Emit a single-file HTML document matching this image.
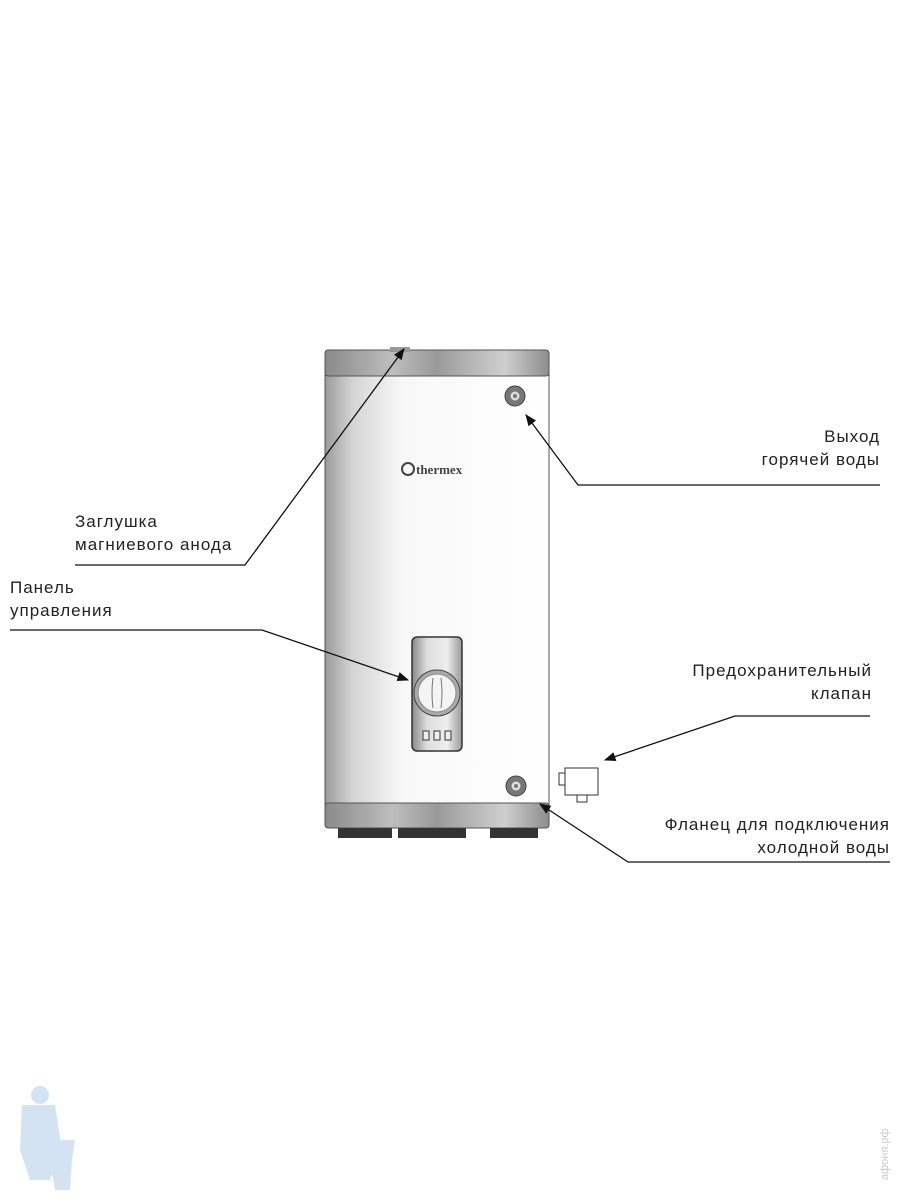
<!DOCTYPE html>
<html><head><meta charset="utf-8"><style>
html,body{margin:0;padding:0;background:#fff;}
body{width:900px;height:1200px;position:relative;overflow:hidden;font-family:"Liberation Sans",sans-serif;}
.t{position:absolute;font-size:17px;letter-spacing:1px;color:#222;line-height:23px;white-space:nowrap;}
</style></head><body>
<svg width="900" height="1200" style="position:absolute;left:0;top:0">
<defs>
<linearGradient id="body" x1="0" x2="1">
<stop offset="0" stop-color="#9a9a9a"/><stop offset="0.12" stop-color="#d4d4d4"/><stop offset="0.35" stop-color="#f8f8f8"/><stop offset="1" stop-color="#fff"/></linearGradient>
<linearGradient id="band" x1="0" x2="1">
<stop offset="0" stop-color="#8a8a8a"/><stop offset="0.3" stop-color="#bdbdbd"/><stop offset="0.5" stop-color="#9a9a9a"/><stop offset="0.8" stop-color="#cfcfcf"/><stop offset="1" stop-color="#8d8d8d"/></linearGradient>
<linearGradient id="pan" x1="0" x2="1">
<stop offset="0" stop-color="#888"/><stop offset="0.3" stop-color="#ddd"/><stop offset="0.7" stop-color="#eee"/><stop offset="1" stop-color="#999"/></linearGradient>
<marker id="a" viewBox="0 0 10 10" refX="9" refY="5" markerWidth="9" markerHeight="9" orient="auto"><path d="M0,1 L10,5 L0,9 z" fill="#111"/></marker>
</defs>
<rect x="325" y="372" width="224" height="433" fill="url(#body)" stroke="#555" stroke-width="1"/>
<rect x="325" y="350" width="224" height="26" rx="3" fill="url(#band)" stroke="#555"/>
<rect x="390" y="347" width="20" height="5" fill="#999"/>
<rect x="325" y="803" width="224" height="25" rx="3" fill="url(#band)" stroke="#555"/>
<rect x="338" y="828" width="54" height="10" fill="#333"/>
<rect x="398" y="828" width="68" height="10" fill="#333"/>
<rect x="490" y="828" width="48" height="10" fill="#333"/>
<circle cx="408" cy="469" r="6" fill="none" stroke="#444" stroke-width="2"/>
<text x="416" y="474" font-family="Liberation Serif" font-weight="bold" font-size="13" fill="#444">thermex</text>
<circle cx="515" cy="396" r="10" fill="#777" stroke="#444"/><circle cx="515" cy="396" r="4.5" fill="#ddd"/><circle cx="515" cy="396" r="2" fill="#777"/>
<circle cx="516" cy="786" r="10" fill="#777" stroke="#444"/><circle cx="516" cy="786" r="4.5" fill="#ddd"/><circle cx="516" cy="786" r="2" fill="#777"/>
<rect x="412" y="637" width="50" height="114" rx="5" fill="url(#pan)" stroke="#333" stroke-width="1.5"/>
<circle cx="437" cy="693" r="23" fill="#aaa" stroke="#444"/>
<circle cx="437" cy="693" r="19" fill="#f4f4f4" stroke="#888"/>
<path d="M433,678 Q431,693 433,708 M441,678 Q443,693 441,708" stroke="#777" fill="none"/>
<rect x="423" y="731" width="6" height="9" fill="#eee" stroke="#333"/>
<rect x="434" y="731" width="6" height="9" fill="#eee" stroke="#333"/>
<rect x="445" y="731" width="6" height="9" fill="#eee" stroke="#333"/>
<rect x="565" y="768" width="33" height="27" fill="#fff" stroke="#333"/>
<rect x="559" y="773" width="6" height="12" fill="#fff" stroke="#333"/>
<rect x="577" y="795" width="10" height="7" fill="#fff" stroke="#333"/>
<g stroke="#111" stroke-width="1.3" fill="none">
<polyline points="75,565 245,565 404,349" marker-end="url(#a)"/>
<polyline points="880,485 578,485 526,415" marker-end="url(#a)"/>
<polyline points="10,630 262,630 408,680" marker-end="url(#a)"/>
<polyline points="870,716 735,716 605,760" marker-end="url(#a)"/>
<polyline points="890,862 628,862 540,804" marker-end="url(#a)"/>
</g>
<g fill="#cfe0f1" opacity="0.9">
<circle cx="40" cy="1095" r="9"/><path d="M22,1105 L55,1105 L62,1150 L50,1180 L30,1180 L20,1150 z"/>
<path d="M48,1140 L75,1140 L72,1160 L70,1190 L55,1190 L50,1160 z"/>
</g>
<text transform="translate(888,1180) rotate(-90)" font-size="11" fill="#ccc">афоня.рф</text>
</svg>
<div class="t" style="left:75px;top:510px">Заглушка<br>магниевого анода</div>
<div class="t" style="left:10px;top:576px">Панель<br>управления</div>
<div class="t" style="right:20px;top:425px;text-align:right">Выход<br>горячей воды</div>
<div class="t" style="right:28px;top:659px;text-align:right">Предохранительный<br>клапан</div>
<div class="t" style="right:10px;top:813px;text-align:right">Фланец для подключения<br>холодной воды</div>
</body></html>
